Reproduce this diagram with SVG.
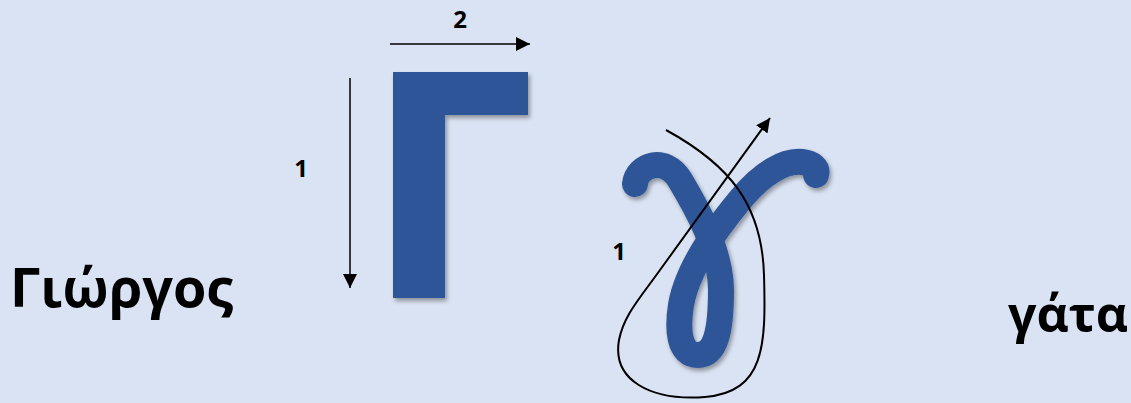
<svg xmlns="http://www.w3.org/2000/svg" width="1131" height="403" viewBox="0 0 1131 403">
  <defs>
    <style>
      .word { font-family: "Open Sans", "Noto Sans", "DejaVu Sans", sans-serif; font-weight: 700; fill: #000000; }
      .num { font-family: "Open Sans", "Noto Sans", "DejaVu Sans", sans-serif; font-weight: 700; fill: #000000; font-size: 24px; text-anchor: middle; }
      .letter { fill: #2F5597; filter: url(#shadow); }
      .stroke-letter { fill: none; stroke: #2F5597; stroke-width: 26; stroke-linecap: round; stroke-linejoin: round; filter: url(#shadow); }
      .conn { fill: none; stroke: #000000; }
    </style>
    <filter id="shadow" x="-20%" y="-20%" width="140%" height="140%">
      <feDropShadow dx="2" dy="3" stdDeviation="2" flood-color="#000000" flood-opacity="0.35"/>
    </filter>
    <marker id="arrow" viewBox="0 0 10 10" refX="10" refY="5" markerWidth="14" markerHeight="14" markerUnits="userSpaceOnUse" orient="auto">
      <path d="M0,0 L10,5 L0,10 Z" fill="#000000"/>
    </marker>
  </defs>
  <rect x="0" y="0" width="1131" height="403" fill="#DAE3F3"/>

  <g id="capital-gamma">
    <path class="letter" d="M393,72 L528,72 L528,115 L445,115 L445,298 L393,298 Z"/>
  </g>

  <g id="small-gamma">
    <path class="stroke-letter" d="M635,184 C637,165 665,155 680,180 C695,205 721,250 721,290 C721,330 716,355 698,355 C679,355 677,330 681,305 C687,270 715,230 740,200 C762,173 785,160 802,162 C812,163 818,168 816,175"/>
  </g>

  <g id="connectors">
    <line class="conn" x1="390" y1="44" x2="530" y2="44" stroke-width="1.5" marker-end="url(#arrow)"/>
    <line class="conn" x1="350" y1="78" x2="350" y2="288" stroke-width="1.5" marker-end="url(#arrow)"/>
    <path class="conn" stroke-width="2" d="M666,130 C730,165 762,205 764,275 C766,345 765,392 705,397 C650,401 612,380 619,340 C624,315 640,298 660,270 L770,118" marker-end="url(#arrow)"/>
  </g>

  <g id="labels">
    <text class="num" x="301" y="177">1</text>
    <text class="num" x="460" y="28">2</text>
    <text class="num" x="619" y="260">1</text>
    <text class="word" x="10" y="307" font-size="54">Γιώργος</text>
    <text class="word" x="1008" y="332" font-size="50">γάτα</text>
  </g>
</svg>
